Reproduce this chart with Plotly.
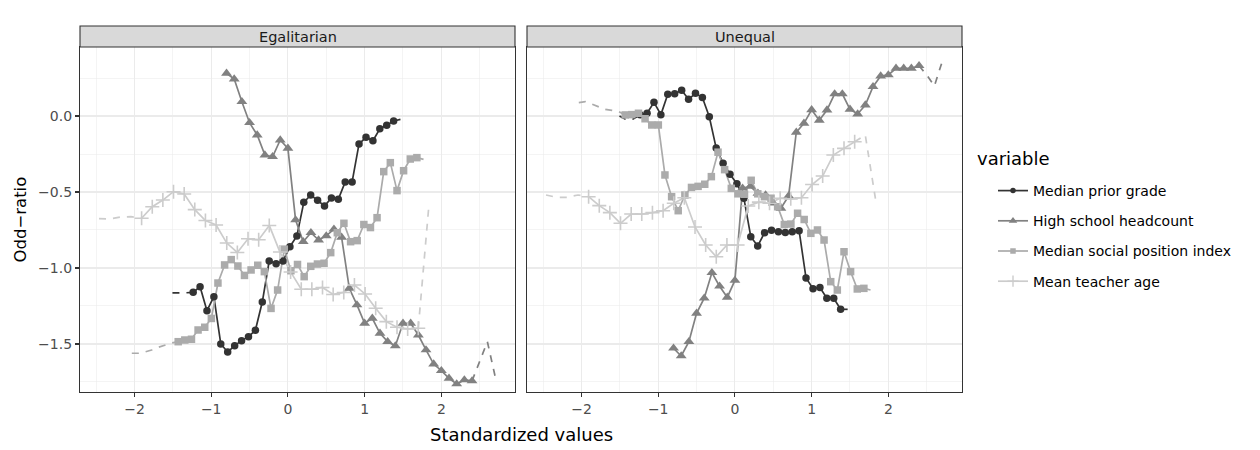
import plotly.graph_objects as go

# ---------------- data ----------------
# standardized-value grids for each variable
grade_x = [-1.235, -1.145, -1.055, -0.965, -0.875, -0.785, -0.694, -0.604, -0.514, -0.424,
           -0.334, -0.244, -0.154, -0.064, 0.026, 0.117, 0.207, 0.297, 0.387, 0.477,
           0.567, 0.657, 0.747, 0.837, 0.927, 1.018, 1.108, 1.198, 1.288, 1.378]
head_x = [-0.8, -0.7, -0.6, -0.5, -0.4, -0.3, -0.2, -0.1, 0.0, 0.1, 0.2, 0.3, 0.4, 0.5,
          0.6, 0.7, 0.8, 0.9, 1.0, 1.1, 1.2, 1.3, 1.4, 1.5, 1.6, 1.7, 1.8, 1.9, 2.0,
          2.1, 2.2, 2.3, 2.4]
social_x = [-1.430, -1.344, -1.257, -1.171, -1.084, -0.998, -0.912, -0.825, -0.739, -0.652,
            -0.566, -0.480, -0.393, -0.307, -0.220, -0.134, -0.047, 0.039, 0.125, 0.212,
            0.298, 0.385, 0.471, 0.558, 0.644, 0.730, 0.817, 0.903, 0.990, 1.076,
            1.162, 1.249, 1.335, 1.422, 1.508, 1.595, 1.681]
age_x = [-1.907, -1.768, -1.630, -1.491, -1.352, -1.214, -1.075, -0.936, -0.797, -0.659,
         -0.520, -0.381, -0.243, -0.104, 0.035, 0.174, 0.312, 0.451, 0.590, 0.728,
         0.867, 1.006, 1.144, 1.283, 1.422, 1.561, 1.699]

# Egalitarian panel
egal_grade = [-1.160, -1.123, -1.281, -1.189, -1.500, -1.553, -1.511, -1.478, -1.452, -1.410,
              -1.224, -0.954, -0.972, -0.954, -0.860, -0.789, -0.568, -0.520, -0.555, -0.592,
              -0.539, -0.548, -0.434, -0.434, -0.184, -0.140, -0.163, -0.084, -0.061, -0.033]
egal_head = [0.281, 0.243, 0.094, -0.044, -0.125, -0.257, -0.268, -0.158, -0.213, -0.684,
             -0.827, -0.768, -0.816, -0.789, -0.745, -0.798, -1.134, -1.243, -1.364, -1.331,
             -1.430, -1.485, -1.513, -1.364, -1.364, -1.441, -1.539, -1.632, -1.676, -1.726,
             -1.763, -1.737, -1.743]
egal_social = [-1.485, -1.474, -1.469, -1.408, -1.390, -1.332, -1.099, -0.980, -0.945, -0.987,
               -1.049, -1.013, -0.982, -1.024, -1.266, -1.145, -0.876, -1.018, -0.977, -1.057,
               -0.989, -0.974, -0.969, -0.899, -0.768, -0.706, -0.827, -0.820, -0.714, -0.734,
               -0.669, -0.366, -0.307, -0.491, -0.360, -0.283, -0.274]
egal_age = [-0.673, -0.597, -0.553, -0.498, -0.513, -0.616, -0.688, -0.717, -0.836, -0.898,
            -0.808, -0.814, -0.720, -0.895, -1.026, -1.140, -1.140, -1.128, -1.174, -1.161,
            -1.112, -1.171, -1.265, -1.353, -1.390, -1.401, -1.397]

# Unequal panel
uneq_grade = [0.009, 0.018, 0.090, 0.009, 0.143, 0.147, 0.169, 0.110, 0.149, 0.122,
              -0.005, -0.211, -0.311, -0.383, -0.445, -0.541, -0.794, -0.855, -0.768, -0.752,
              -0.761, -0.766, -0.761, -0.755, -1.066, -1.136, -1.128, -1.199, -1.199, -1.272]
uneq_head = [-1.528, -1.579, -1.485, -1.298, -1.199, -1.031, -1.120, -1.193, -1.082, -0.475,
             -0.463, -0.509, -0.520, -0.574, -0.607, -0.526, -0.107, -0.048, 0.041, -0.028,
             0.039, 0.145, 0.145, 0.044, 0.013, 0.072, 0.193, 0.263, 0.270, 0.314,
             0.314, 0.314, 0.331]
uneq_social = [0.007, 0.009, 0.018, -0.018, -0.059, -0.059, -0.388, -0.531, -0.623, -0.520,
               -0.470, -0.463, -0.449, -0.399, -0.238, -0.353, -0.476, -0.512, -0.515, -0.423,
               -0.512, -0.531, -0.541, -0.597, -0.714, -0.711, -0.640, -0.681, -0.772, -0.750,
               -0.816, -1.090, -1.145, -0.893, -1.024, -1.138, -1.134]
uneq_age = [-0.531, -0.590, -0.636, -0.706, -0.645, -0.645, -0.636, -0.623, -0.574, -0.538,
            -0.730, -0.849, -0.926, -0.849, -0.849, -0.592, -0.567, -0.574, -0.541, -0.545,
            -0.538, -0.451, -0.395, -0.257, -0.213, -0.169]

# dashed (sparse-data) tails: (x, y) pairs
egal_grade_lo_x = [-1.505, -1.415, -1.325, -1.235]
egal_grade_lo_y = [-1.164, -1.165, -1.163, -1.160]
egal_grade_hi_x = [1.378, 1.468, 1.530]
egal_grade_hi_y = [-0.033, -0.020, -0.015]
egal_head_hi_x = [2.4, 2.5, 2.6, 2.7]
egal_head_hi_y = [-1.743, -1.615, -1.485, -1.711]
egal_social_lo_x = [-2.035, -1.949, -1.862, -1.776, -1.689, -1.603, -1.516, -1.430]
egal_social_lo_y = [-1.561, -1.561, -1.552, -1.540, -1.522, -1.505, -1.493, -1.485]
egal_social_hi_x = [1.681, 1.768]
egal_social_hi_y = [-0.274, -0.285]
egal_age_lo_x = [-2.462, -2.323, -2.184, -2.046, -1.907]
egal_age_lo_y = [-0.675, -0.677, -0.665, -0.662, -0.673]
egal_age_hi_x = [1.699, 1.838]
egal_age_hi_y = [-1.397, -0.586]

uneq_grade_lo_x = [-1.505, -1.415, -1.325, -1.235]
uneq_grade_lo_y = [0.000, -0.025, -0.020, 0.009]
uneq_grade_hi_x = [1.378, 1.500]
uneq_grade_hi_y = [-1.272, -1.272]
uneq_head_hi_x = [2.4, 2.5, 2.6, 2.7]
uneq_head_hi_y = [0.331, 0.270, 0.197, 0.355]
uneq_social_lo_x = [-2.035, -1.949, -1.862, -1.776, -1.689, -1.603, -1.516, -1.430]
uneq_social_lo_y = [0.088, 0.094, 0.078, 0.058, 0.043, 0.037, 0.030, 0.007]
uneq_social_hi_x = [1.681, 1.768]
uneq_social_hi_y = [-1.134, -1.145]
uneq_age_lo_x = [-2.462, -2.323, -2.184, -2.046, -1.907]
uneq_age_lo_y = [-0.520, -0.535, -0.535, -0.520, -0.531]
uneq_age_hi_x = [1.561, 1.699, 1.838]
uneq_age_hi_y = [-0.169, -0.125, -0.564]

variables = ["Median prior grade", "High school headcount",
             "Median social position index", "Mean teacher age"]
facets = ["Egalitarian", "Unequal"]
x_ticks = [-2, -1, 0, 1, 2]
y_ticks = [0.0, -0.5, -1.0, -1.5]

# ---------------- styling ----------------
W, H = 1260, 450
FONT = "DejaVu Sans"
colors = ["#333333", "#818181", "#ABABAB", "#CCCCCC"]
symbols = ["circle", "triangle-up", "square", "cross-thin"]
msizes = [7.5, 9.5, 7.5, 10]
LW = 1.7
DASH = "7px,7px"

px_l = lambda p: p / W
py_t = lambda p: 1 - p / H

panel_x = [(80, 515), (527, 962)]
panel_y = (47, 392)
strip_top = 26

series = [
    [("x", grade_x, egal_grade, egal_grade_lo_x, egal_grade_lo_y, egal_grade_hi_x, egal_grade_hi_y),
     ("x", head_x, egal_head, None, None, egal_head_hi_x, egal_head_hi_y),
     ("x", social_x, egal_social, egal_social_lo_x, egal_social_lo_y, egal_social_hi_x, egal_social_hi_y),
     ("x", age_x, egal_age, egal_age_lo_x, egal_age_lo_y, egal_age_hi_x, egal_age_hi_y)],
    [("x2", grade_x, uneq_grade, uneq_grade_lo_x, uneq_grade_lo_y, uneq_grade_hi_x, uneq_grade_hi_y),
     ("x2", head_x, uneq_head, None, None, uneq_head_hi_x, uneq_head_hi_y),
     ("x2", social_x, uneq_social, uneq_social_lo_x, uneq_social_lo_y, uneq_social_hi_x, uneq_social_hi_y),
     ("x2", age_x[:len(uneq_age)], uneq_age, uneq_age_lo_x, uneq_age_lo_y, uneq_age_hi_x, uneq_age_hi_y)],
]

fig = go.Figure()

# lines first (ggplot draws the line layer beneath the point layer)
for panel in series:
    for i, (ax, xs, ys, lox, loy, hix, hiy) in enumerate(panel):
        ya = "y" if ax == "x" else "y2"
        fig.add_trace(go.Scatter(x=xs, y=ys, mode="lines", xaxis=ax, yaxis=ya,
                                 line=dict(color=colors[i], width=LW),
                                 showlegend=False, hoverinfo="skip"))
        for tx, ty in ((lox, loy), (hix, hiy)):
            if tx is not None:
                fig.add_trace(go.Scatter(x=tx, y=ty, mode="lines", xaxis=ax, yaxis=ya,
                                         line=dict(color=colors[i], width=LW, dash=DASH),
                                         showlegend=False, hoverinfo="skip"))

for panel in series:
    for i, (ax, xs, ys, *_rest) in enumerate(panel):
        ya = "y" if ax == "x" else "y2"
        fig.add_trace(go.Scatter(x=xs, y=ys, mode="markers", xaxis=ax, yaxis=ya,
                                 marker=dict(symbol=symbols[i], size=msizes[i], color=colors[i],
                                             line=dict(color=colors[i], width=1.6 if i == 3 else 0)),
                                 showlegend=False))

# legend entries
for i, name in enumerate(variables):
    fig.add_trace(go.Scatter(x=[None], y=[None], mode="lines+markers", name=name,
                             legendgroup=name,
                             line=dict(color=colors[i], width=LW),
                             marker=dict(symbol=symbols[i], size=msizes[i] - 2, color=colors[i],
                                         line=dict(color=colors[i], width=1.4 if i == 3 else 0))))

xr = [-2.71, 2.96]
yr = [-1.816, 0.454]
TICKFONT = dict(family=FONT, size=14, color="#4D4D4D")
axis_common = dict(range=xr, showline=True, linecolor="#333333", linewidth=1.1, mirror=True,
                   showgrid=True, gridcolor="#EBEBEB", gridwidth=1.1, zeroline=False,
                   ticks="outside", ticklen=4, tickwidth=1.1, tickcolor="#333333",
                   tickvals=x_ticks, ticktext=[("\u2212" + str(-v)) if v < 0 else str(v) for v in x_ticks],
                   tickfont=TICKFONT,
                   minor=dict(dtick=0.5, tick0=0.5, showgrid=True, gridcolor="#EBEBEB", gridwidth=0.55,
                              ticks=""))
fig.update_layout(
    width=W, height=H, margin=dict(l=0, r=0, t=0, b=0, autoexpand=False),
    paper_bgcolor="white", plot_bgcolor="white",
    font=dict(family=FONT, color="black"),
    xaxis=dict(domain=[px_l(panel_x[0][0]), px_l(panel_x[0][1])], anchor="y", **axis_common),
    xaxis2=dict(domain=[px_l(panel_x[1][0]), px_l(panel_x[1][1])], anchor="y2", **axis_common),
    yaxis=dict(domain=[py_t(panel_y[1]), py_t(panel_y[0])], anchor="x", range=yr,
               showline=True, linecolor="#333333", linewidth=1.1, mirror=True,
               showgrid=True, gridcolor="#EBEBEB", gridwidth=1.1, zeroline=False,
               ticks="outside", ticklen=4, tickwidth=1.1, tickcolor="#333333",
               tickvals=y_ticks, ticktext=[("\u2212" + f"{-v:.1f}") if v < 0 else f"{v:.1f}" for v in y_ticks],
               tickfont=TICKFONT,
               minor=dict(dtick=0.25, tick0=0.25, showgrid=True, gridcolor="#EBEBEB", gridwidth=0.55, ticks="")),
    yaxis2=dict(domain=[py_t(panel_y[1]), py_t(panel_y[0])], anchor="x2", range=yr, matches="y",
                showline=True, linecolor="#333333", linewidth=1.1, mirror=True,
                showgrid=True, gridcolor="#EBEBEB", gridwidth=1.1, zeroline=False,
                showticklabels=False, ticks="", tickvals=y_ticks,
                minor=dict(dtick=0.25, tick0=0.25, showgrid=True, gridcolor="#EBEBEB", gridwidth=0.55, ticks="")),
    legend=dict(x=px_l(993), y=py_t(175), xanchor="left", yanchor="top",
                font=dict(family=FONT, size=14, color="black"), tracegroupgap=9,
                bgcolor="rgba(0,0,0,0)", borderwidth=0),
    showlegend=True,
)

# strips
for k, (x0, x1) in enumerate(panel_x):
    fig.add_shape(type="rect", xref="paper", yref="paper",
                  x0=px_l(x0), x1=px_l(x1), y0=py_t(panel_y[0]), y1=py_t(strip_top),
                  fillcolor="#D9D9D9", line=dict(color="#333333", width=1.1), layer="above")
    fig.add_annotation(text=facets[k], xref="paper", yref="paper",
                       x=px_l((x0 + x1) / 2), y=py_t((strip_top + panel_y[0]) / 2),
                       showarrow=False, xanchor="center", yanchor="middle",
                       font=dict(family=FONT, size=14.5, color="#1A1A1A"))

# axis titles and legend title
fig.add_annotation(text="Standardized values", xref="paper", yref="paper",
                   x=px_l((panel_x[0][0] + panel_x[1][1]) / 2), y=py_t(434),
                   showarrow=False, xanchor="center", yanchor="middle",
                   font=dict(family=FONT, size=18, color="black"))
fig.add_annotation(text="Odd\u2212ratio", xref="paper", yref="paper",
                   x=px_l(20), y=py_t((panel_y[0] + panel_y[1]) / 2), textangle=-90,
                   showarrow=False, xanchor="center", yanchor="middle",
                   font=dict(family=FONT, size=16.5, color="black"))
fig.add_annotation(text="variable", xref="paper", yref="paper",
                   x=px_l(975), y=py_t(158), showarrow=False, xanchor="left", yanchor="middle",
                   font=dict(family=FONT, size=18, color="black"))

fig.write_html("out.html", config={"displayModeBar": False, "staticPlot": True},
               post_script="document.body.style.margin='0px';")
